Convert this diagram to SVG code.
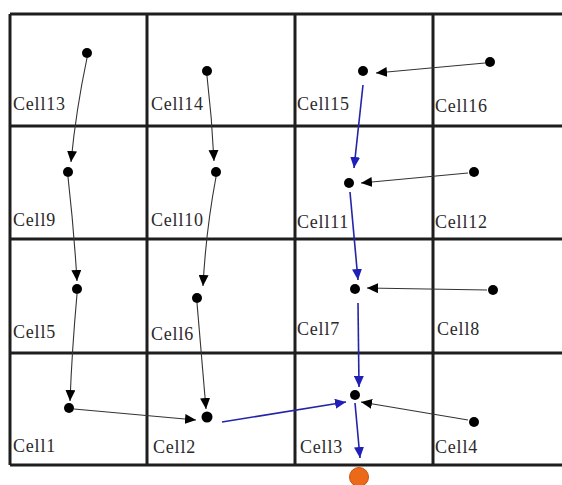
<svg xmlns="http://www.w3.org/2000/svg" width="562" height="485" viewBox="0 0 562 485">
<style>
.grid{stroke:#1e1e1e;stroke-width:3;fill:none}
.lbl{font-family:"Liberation Serif","Times New Roman",serif;font-size:18px;fill:#2a2a2a;letter-spacing:0.8px}
.dot{fill:#000}
.c{stroke:#333;stroke-width:1.1;fill:none;marker-end:url(#ak)}
.b{stroke:#2424a8;stroke-width:1.6;fill:none;marker-end:url(#ab)}
</style>
<defs>
<marker id="ak" markerUnits="userSpaceOnUse" markerWidth="12" markerHeight="10" refX="11" refY="5" orient="auto"><path d="M0,0 L11,5 L0,10 Z" fill="#000"/></marker>
<marker id="ab" markerUnits="userSpaceOnUse" markerWidth="12" markerHeight="10" refX="11" refY="5" orient="auto"><path d="M0,0 L11,5 L0,10 Z" fill="#2020b8"/></marker>
</defs>
<rect width="562" height="485" fill="#fff"/>
<g id="grid" class="grid">
<path d="M10,14 H562 M10,126 H562 M10,239 H562 M10,353 H562 M10,465 H562"/>
<path d="M10,14 V465 M147,14 V465 M295,14 V465 M433,14 V465"/>
</g>
<g id="cell13"><text class="lbl" x="13" y="110">Cell13</text><circle class="dot" cx="87" cy="53" r="5"/></g>
<g id="cell14"><text class="lbl" x="151" y="110">Cell14</text><circle class="dot" cx="207" cy="71" r="5"/></g>
<g id="cell15"><text class="lbl" x="297" y="110">Cell15</text><circle class="dot" cx="363" cy="71" r="5"/></g>
<g id="cell16"><text class="lbl" x="435" y="112">Cell16</text><circle class="dot" cx="490" cy="62" r="5"/></g>
<g id="cell9"><text class="lbl" x="13" y="226">Cell9</text><circle class="dot" cx="68" cy="172" r="5"/></g>
<g id="cell10"><text class="lbl" x="151" y="226">Cell10</text><circle class="dot" cx="216" cy="172" r="5"/></g>
<g id="cell11"><text class="lbl" x="297" y="228">Cell11</text><circle class="dot" cx="349" cy="183" r="5"/></g>
<g id="cell12"><text class="lbl" x="435" y="228">Cell12</text><circle class="dot" cx="474" cy="172" r="5"/></g>
<g id="cell5"><text class="lbl" x="13" y="338">Cell5</text><circle class="dot" cx="77" cy="289" r="5"/></g>
<g id="cell6"><text class="lbl" x="151" y="340">Cell6</text><circle class="dot" cx="197" cy="298" r="5"/></g>
<g id="cell7"><text class="lbl" x="297" y="335">Cell7</text><circle class="dot" cx="355" cy="289" r="5"/></g>
<g id="cell8"><text class="lbl" x="437" y="335">Cell8</text><circle class="dot" cx="493" cy="290" r="5"/></g>
<g id="cell1"><text class="lbl" x="13" y="452">Cell1</text><circle class="dot" cx="69" cy="408" r="5"/></g>
<g id="cell2"><text class="lbl" x="153" y="453">Cell2</text><circle class="dot" cx="207" cy="417" r="5.5"/></g>
<g id="cell3"><text class="lbl" x="300" y="453">Cell3</text><circle class="dot" cx="355" cy="395" r="5"/></g>
<g id="cell4"><text class="lbl" x="435" y="453">Cell4</text><circle class="dot" cx="474" cy="422" r="5"/></g>
<g id="sink"><circle cx="359" cy="477" r="9.5" fill="#ec6a17" stroke="#c95010" stroke-width="1"/></g>
<g id="connectors">
<path class="c" d="M87,58 Q76,110 71,162"/>
<path class="c" d="M207,76 Q212,118 214,161"/>
<path class="c" d="M68,177 Q74,230 77,281"/>
<path class="c" d="M216,177 Q206,230 203,286"/>
<path class="c" d="M77,294 Q72,350 70,401"/>
<path class="c" d="M197,303 Q202,360 206,409"/>
<path class="c" d="M74,409 L196,420"/>
<path class="c" d="M485,63 L376,73"/>
<path class="c" d="M468,173 L361,183"/>
<path class="c" d="M487,290 L367,288"/>
<path class="c" d="M468,420 L361,402"/>
<path class="b" d="M222,422 L346,402"/>
<path class="b" d="M363,85 L354,168"/>
<path class="b" d="M350,192 L358,280"/>
<path class="b" d="M358,303 L359,387"/>
<path class="b" d="M355,403 L360,458"/>
</g>
</svg>
